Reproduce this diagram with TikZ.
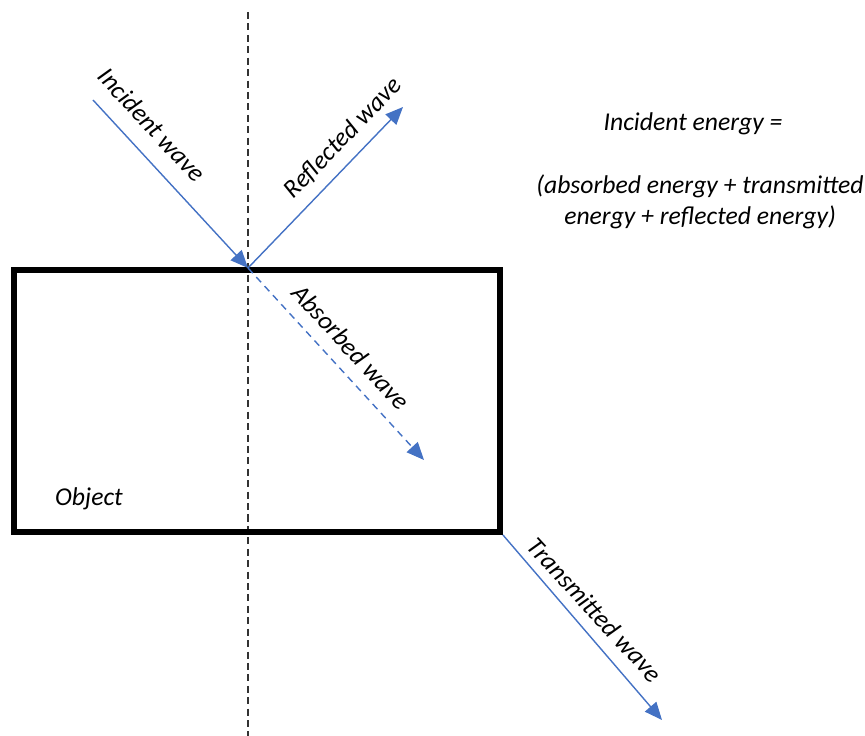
\documentclass[tikz,border=0pt]{standalone}
\usepackage{fontspec}
\setmainfont{Carlito}
\usepackage{tikz}
\usetikzlibrary{arrows.meta}
\usetikzlibrary{positioning}

\definecolor{waveblue}{RGB}{68,114,196}

\begin{document}
\begin{tikzpicture}[x=0.02cm, y=-0.02cm,
        wave/.style={draw=waveblue, line width=0.8pt,
            -{Triangle[length=10pt, width=8.5pt, fill=waveblue]}},
        wavelabel/.style={font=\fontsize{14.6pt}{17.6pt}\selectfont\itshape, inner sep=1pt}]

        \useasboundingbox (0,0) rectangle (865,736);

        % normal line
        \coordinate (ntop) at (248,12);
        \coordinate (nbot) at (248,736);
        \draw [dashed, dash pattern=on 4pt off 2.5pt, line width=0.8pt, black!80] (ntop) -- (nbot);

        % the object
        \node[draw, line width=3.4pt, minimum width=9.72cm, minimum height=5.24cm,
              inner sep=0pt] (obj) at (257,401) {};
        \node[wavelabel] (objtext) at (89,499) {Object};

        % waves
        \coordinate (hit) at (248,268);
        \coordinate (src) at (93,100);
        \coordinate (refl) at (403,107);
        \coordinate (abs) at (424,460);
        \coordinate (trans) at (662,720);

        \draw [wave] (src) -- (hit);
        \draw [wave] (hit) -- (refl);
        \draw [wave, dashed, dash pattern=on 4pt off 3pt] (hit) -- (abs);
        \draw [wave] (obj.south east) -- (trans);

        \node[wavelabel, rotate=-47.3] (inclabel) at (152,125) {Incident wave};
        \node[wavelabel, rotate=46] (refllabel) at (343,138) {Reflected wave};
        \node[wavelabel, rotate=-47.5] (abslabel) at (351,347) {Absorbed wave};
        \node[wavelabel, rotate=-47.4] (translabel) at (595,610) {Transmitted wave};

        % energy balance
        \node[wavelabel] (eqtop) at (693,124) {Incident energy =};
        \node[wavelabel, align=center] (eqbody) at (700,202)
            {(absorbed energy + transmitted\\energy + reflected energy)};

\end{tikzpicture}
\end{document}
